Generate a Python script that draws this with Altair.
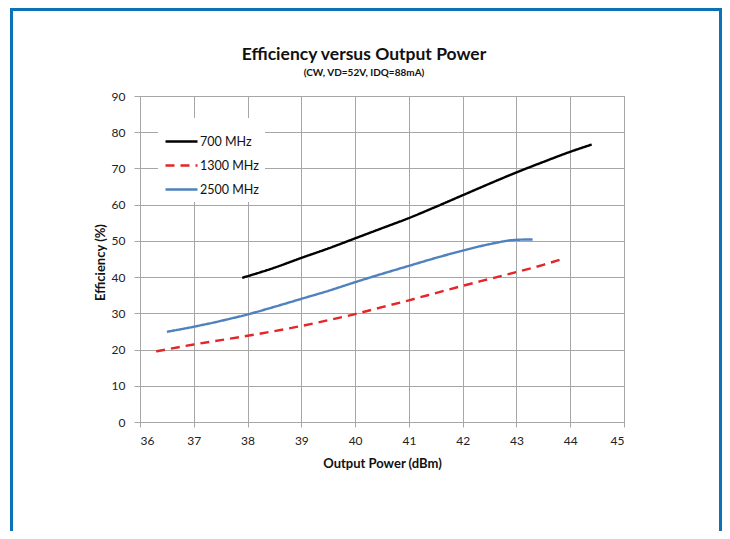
import altair as alt
import pandas as pd

# ---- data ----
series_names = ["700 MHz", "1300 MHz", "2500 MHz"]

x700 = [37.9, 38.5, 39.0, 39.5, 40.0, 40.5, 41.0, 41.5, 42.0, 42.5, 43.0, 43.5, 44.0, 44.4]
y700 = [39.8, 42.6, 45.3, 47.9, 50.7, 53.5, 56.3, 59.4, 62.6, 65.8, 68.9, 71.8, 74.6, 76.6]

x1300 = [36.3, 37.0, 37.5, 38.0, 38.5, 39.0, 39.5, 40.0, 40.5, 41.0, 41.5, 42.0, 42.5, 43.0, 43.5, 43.85]
y1300 = [19.5, 21.4, 22.6, 23.8, 25.1, 26.5, 28.1, 29.8, 31.7, 33.6, 35.6, 37.6, 39.5, 41.4, 43.4, 45.0]

x2500 = [36.5, 37.0, 37.5, 38.0, 38.5, 39.0, 39.5, 40.0, 40.5, 41.0, 41.5, 42.0, 42.5, 43.0, 43.3]
y2500 = [24.9, 26.3, 27.9, 29.7, 31.8, 34.0, 36.2, 38.6, 40.9, 43.1, 45.3, 47.3, 49.1, 50.3, 50.4]

x_ticks = [36, 37, 38, 39, 40, 41, 42, 43, 44, 45]
y_ticks = [0, 10, 20, 30, 40, 50, 60, 70, 80, 90]

series_colors = ["#000000", "#E3262A", "#4F81BD"]
series_dashes = [[1, 0], [9, 6], [1, 0]]

rows = []
for name, xs, ys in zip(series_names, [x700, x1300, x2500], [y700, y1300, y2500]):
    for i, (xv, yv) in enumerate(zip(xs, ys)):
        rows.append({"series": name, "power": xv, "eff": yv, "order": i})
df = pd.DataFrame(rows)

# ---- layout ----
W, H = 484, 326
PAD_L, PAD_T = 132, 88
TOTAL_W, TOTAL_H = 714, 523
PAD_R = TOTAL_W - PAD_L - W
PAD_B = TOTAL_H - PAD_T - H
FONT = "Lato"

legend_kw = dict(
    title=None,
    orient="none",
    legendX=18,
    legendY=22,
    fillColor="white",
    padding=6,
    symbolType="stroke",
    symbolSize=1024,
    symbolStrokeWidth=2.5,
    labelFont=FONT,
    labelFontSize=12.5,
    labelColor="#111111",
    labelOffset=1,
    rowPadding=0,
)

lines = alt.Chart(df).mark_line(strokeWidth=2.4, interpolate="monotone").encode(
    x=alt.X(
        "power:Q",
        scale=alt.Scale(domain=[36, 45], nice=False, zero=False),
        axis=alt.Axis(
            values=x_ticks,
            title="Output Power (dBm)",
            tickSize=5,
            labelPadding=8,
            titleY=41,
            titleBaseline="middle",
        ),
    ),
    y=alt.Y(
        "eff:Q",
        scale=alt.Scale(domain=[0, 90], nice=False),
        axis=alt.Axis(
            values=y_ticks,
            title="Efficiency (%)",
            tickSize=6,
            labelPadding=9,
            titleX=-40,
            titleY=166,
            titleBaseline="middle",
        ),
    ),
    color=alt.Color(
        "series:N",
        scale=alt.Scale(domain=series_names, range=series_colors),
        legend=alt.Legend(**legend_kw),
    ),
    strokeDash=alt.StrokeDash(
        "series:N",
        scale=alt.Scale(domain=series_names, range=series_dashes),
        legend=alt.Legend(**legend_kw),
    ),
    order="order:Q",
)

border = alt.Chart(pd.DataFrame({"k": [0]})).mark_rect(
    fillOpacity=0, stroke="#0B72B5", strokeWidth=3
).encode(
    x=alt.value(-128.5),
    x2=alt.value(580.5),
    y=alt.value(-86.5),
    y2=alt.value(H + 300),
)

chart = alt.layer(border, lines).properties(
    width=W,
    height=H,
    autosize=alt.AutoSizeParams(type="none"),
    padding={"left": PAD_L, "top": PAD_T, "right": PAD_R, "bottom": PAD_B},
    title=alt.TitleParams(
        text="Efficiency versus Output Power",
        subtitle="(CW, VD=52V, IDQ=88mA)",
        anchor="middle",
        frame="group",
        font=FONT,
        fontSize=17.5,
        fontWeight="bold",
        color="#111111",
        subtitleFont=FONT,
        subtitleFontSize=10,
        subtitleFontWeight="bold",
        subtitleColor="#111111",
        subtitlePadding=5,
        offset=-70,
        dx=-18,
    ),
).configure(
    background="white",
).configure_view(
    stroke="#A6A6A6",
    strokeWidth=1,
).configure_axis(
    labelFont=FONT,
    labelFontSize=12,
    labelColor="#222222",
    titleFont=FONT,
    titleFontSize=13,
    titleFontWeight="bold",
    titleColor="#111111",
    gridColor="#A6A6A6",
    gridWidth=1,
    domainColor="#A6A6A6",
    tickColor="#A6A6A6",
)

chart.save("out.html", embed_options={"renderer": "svg", "actions": False})
